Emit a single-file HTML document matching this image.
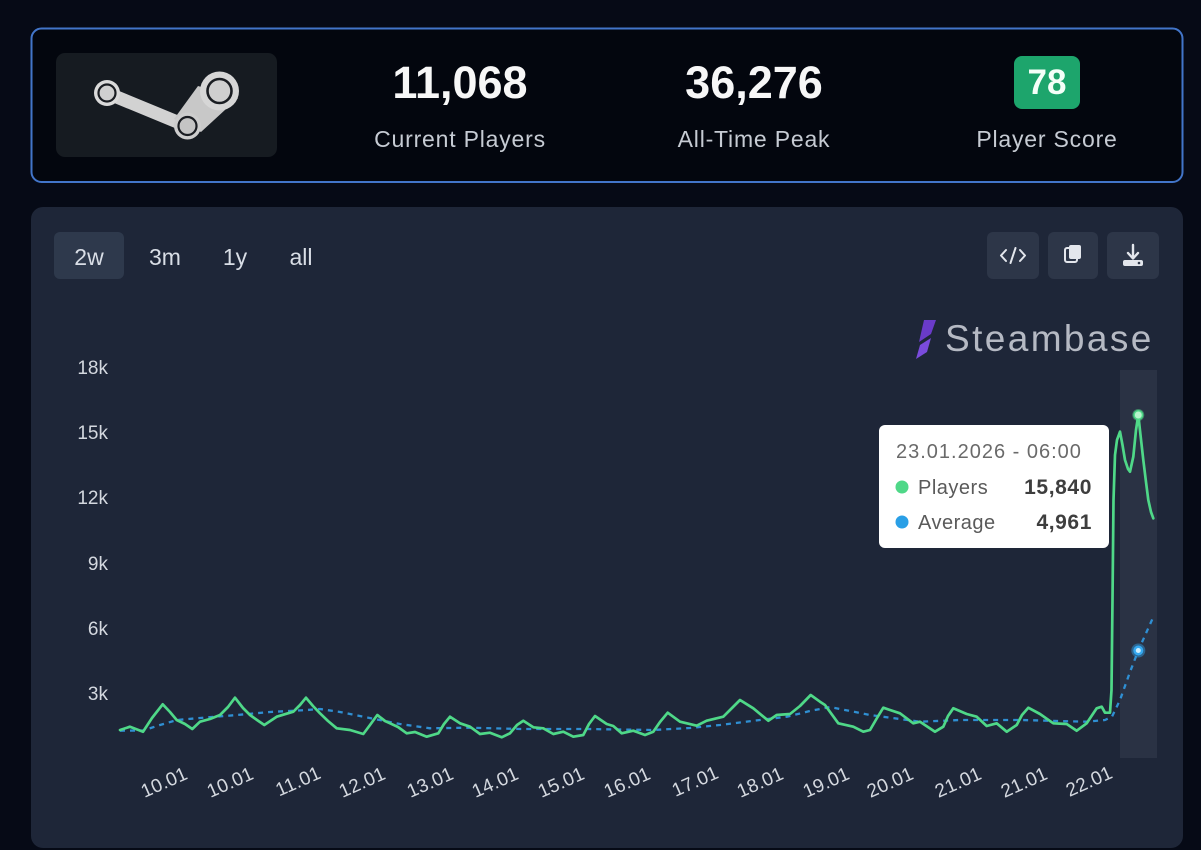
<!DOCTYPE html>
<html>
<head>
<meta charset="utf-8">
<style>
  html,body{margin:0;padding:0;background:#060a16;}
  body{width:1201px;height:850px;overflow:hidden;position:relative;font-family:"Liberation Sans",Arial,sans-serif;}
  svg{position:absolute;left:0;top:0;}
</style>
</head>
<body>
<svg width="1201" height="850" viewBox="0 0 1201 850" xmlns="http://www.w3.org/2000/svg" font-family="Liberation Sans, Arial, sans-serif">
  <rect x="0" y="0" width="1201" height="850" fill="#060a16"/>

  <!-- Top stats card -->
  <rect x="31.5" y="28.5" width="1151" height="153.5" rx="10" fill="#03060e" stroke="#4275c9" stroke-width="2"/>
  <rect x="56" y="53" width="221" height="104" rx="9" fill="#161b21"/>

  <!-- Steam logo -->
  <g>
    <line x1="107" y1="93" x2="187" y2="126" stroke="#d2d2d2" stroke-width="13" stroke-linecap="round"/>
    <polygon points="174,119 198,86 238,98 201,132" fill="#c8c8c8"/>
    <circle cx="107" cy="93" r="13" fill="#dadada"/>
    <circle cx="107" cy="93" r="8.5" fill="#d0d0d0" stroke="#1a1d22" stroke-width="2.2"/>
    <circle cx="219.5" cy="91" r="19.5" fill="#d6d6d6"/>
    <circle cx="219.5" cy="91" r="12" fill="#cfcfcf" stroke="#1a1d22" stroke-width="2.6"/>
    <circle cx="187.5" cy="126" r="13.5" fill="#cdcdcd"/>
    <circle cx="187.5" cy="126" r="9" fill="#c4c4c4" stroke="#1a1d22" stroke-width="2.2"/>
  </g>

  <!-- Stats -->
  <text x="460" y="98" text-anchor="middle" font-size="45" font-weight="bold" fill="#f7f7f7">11,068</text>
  <text x="460" y="147" text-anchor="middle" font-size="23" letter-spacing="0.8" fill="#c6cbd3">Current Players</text>
  <text x="754" y="98" text-anchor="middle" font-size="45" font-weight="bold" fill="#f7f7f7">36,276</text>
  <text x="754" y="147" text-anchor="middle" font-size="23" letter-spacing="0.8" fill="#c6cbd3">All-Time Peak</text>
  <rect x="1014" y="56" width="66" height="53" rx="8" fill="#1da56c"/>
  <text x="1047" y="94" text-anchor="middle" font-size="35" font-weight="bold" fill="#f4fff8">78</text>
  <text x="1047" y="147" text-anchor="middle" font-size="23" letter-spacing="0.8" fill="#c6cbd3">Player Score</text>

  <!-- Chart panel -->
  <rect x="31" y="207" width="1152" height="641" rx="12" fill="#1e2638"/>

  <!-- Range buttons -->
  <rect x="54" y="232" width="70" height="47" rx="6" fill="#2e394c"/>
  <text x="89" y="265" text-anchor="middle" font-size="23" fill="#d9dee6">2w</text>
  <text x="165" y="265" text-anchor="middle" font-size="23" fill="#d9dee6">3m</text>
  <text x="235" y="265" text-anchor="middle" font-size="23" fill="#d9dee6">1y</text>
  <text x="301" y="265" text-anchor="middle" font-size="23" fill="#d9dee6">all</text>

  <!-- Icon buttons -->
  <rect x="987" y="232" width="52" height="47" rx="6" fill="#2d3648"/>
  <rect x="1048" y="232" width="50" height="47" rx="6" fill="#2d3648"/>
  <rect x="1107" y="232" width="52" height="47" rx="6" fill="#2d3648"/>
  <g stroke="#e3e6ec" stroke-width="2" fill="none" stroke-linecap="round" stroke-linejoin="round">
    <polyline points="1006,250 1001,255.5 1006,261"/>
    <polyline points="1020,250 1025,255.5 1020,261"/>
    <line x1="1015.5" y1="248" x2="1010.5" y2="263"/>
  </g>
  <g fill="#e3e6ec">
    <rect x="1065" y="248" width="12" height="14" rx="2" fill="none" stroke="#e3e6ec" stroke-width="2"/>
    <rect x="1069" y="245" width="12" height="14" rx="2"/>
  </g>
  <g>
    <line x1="1133" y1="245" x2="1133" y2="258" stroke="#e3e6ec" stroke-width="2.4" stroke-linecap="round"/>
    <polyline points="1128,253 1133,258.5 1138,253" fill="none" stroke="#e3e6ec" stroke-width="2.4" stroke-linecap="round" stroke-linejoin="round"/>
    <rect x="1123" y="260" width="20" height="6" rx="2" fill="#e3e6ec"/>
    <circle cx="1139" cy="263" r="1.3" fill="#2d3648"/>
  </g>

  <!-- Steambase watermark -->
  <path d="M924,320 L936,320 L931,334 L919,342 Z" fill="#6a3bc9"/>
  <path d="M931,338 L927,352 L916,359 L920,345 Z" fill="#7a4bdc"/>
  <text x="945" y="351" font-size="37" letter-spacing="2.4" fill="#b5b9c3">Steambase</text>

  <!-- Y axis labels -->
  <g font-size="19" fill="#d4d8df" text-anchor="end">
    <text x="108" y="374">18k</text>
    <text x="108" y="439">15k</text>
    <text x="108" y="504">12k</text>
    <text x="108" y="570">9k</text>
    <text x="108" y="635">6k</text>
    <text x="108" y="700">3k</text>
  </g>

  <!-- Hover band -->
  <rect x="1120" y="370" width="37" height="388" fill="#2a3244"/>

  <!-- Average (dashed) -->
  <polyline fill="none" stroke="#2f8fd3" stroke-width="2.3" stroke-dasharray="5 5" stroke-linejoin="round"
    points="120,730.7 143,730.5 160,725 177,720 200,718 237,715 270,712 307,710 320,709 340,712 363,716.7 400,724 430,728.3 470,727.7 520,729 587,729 653,730 690,728 720,725 760,720 787,716.7 810,711 830,707 850,711 870,715 920,721.7 960,720 1020,720 1087,721.7 1105,720 1112,716.7 1120,700 1130,672 1138.3,650.5 1153.3,617"/>

  <!-- Players (green) -->
  <polyline fill="none" stroke="#4fd888" stroke-width="2.7" stroke-linejoin="round" stroke-linecap="round"
    points="120,730 130,726.7 143,731.7 152,718 162.7,704.3 170,712 176.7,720 185,724 192.3,729 200,721.7 210,719 220,715 228,707 235,697.7 243,708 250,715 257,720 264.3,725 276.7,716.7 293.3,711.7 300,705 306,697.7 313,706 320,713.3 328,721 336.7,728.3 350,730 363.3,734 370,725 377.3,715 385,721 390,723.3 398,727 406.7,733.3 415,732 426.7,736.7 438.3,733.3 444,724 450,716.7 460,723.3 470,726.7 480,734 490,732.7 501.7,737.3 510,733.3 517,725 523.3,720.7 533.3,727.3 543.3,728.3 553.3,734 563.3,731.7 573.3,736.7 583.3,735 589,724 595,716 606.7,724 613.3,726 621.7,733.3 633.3,730.7 645,735 653.3,731.7 660,722 667.7,712.7 680,721.7 696.7,725.7 706.7,720.7 723.3,716.7 732,708 740,700 753.3,708.3 768.3,720.7 776.7,715 790,714 800,706 810.7,695 820,701.7 825,705 838.3,723.3 853.3,726.7 863.3,731.7 870,730 877,718 883.3,707.7 890,710 900,713.3 913.3,723.3 920,721.7 935,731.7 943.3,726.7 948,716 953.3,708.3 966.7,714 976.7,716.7 986.7,726 996.7,723.3 1006.7,731.7 1016.7,725 1022,715 1028.3,707.7 1040,714 1053.3,723.3 1066.7,724 1076.7,730.7 1086.7,723.3 1096.7,708.3 1101.7,706.7 1105,712.7 1110,712.7 1111.5,690 1112.5,600 1113.5,500 1115,455 1117,440 1120,431.7 1122.5,445 1125,460 1128,469 1130,471.7 1133.3,456.7 1136,430 1138.3,415 1140.5,435 1143.3,460 1146,482 1148.3,500 1151,512 1153.3,518.3"/>

  <!-- Hover points -->
  <circle cx="1138.3" cy="415" r="6" fill="#4fd888" opacity="0.5"/>
  <circle cx="1138.3" cy="415" r="4.2" fill="#b6f5cb" stroke="#4fd888" stroke-width="1.5"/>
  <circle cx="1138.3" cy="650.5" r="7" fill="#2fa3ee" opacity="0.45"/>
  <circle cx="1138.3" cy="650.5" r="5" fill="#35a8f0"/>
  <circle cx="1138.3" cy="650.5" r="2.5" fill="#cdeeff"/>

  <!-- Tooltip -->
  <rect x="879" y="425" width="230" height="123" rx="6" fill="#ffffff"/>
  <text x="896" y="458" font-size="20" letter-spacing="1" fill="#6a6a6a">23.01.2026 - 06:00</text>
  <circle cx="902" cy="487" r="6.5" fill="#4fd888"/>
  <text x="918" y="494" font-size="20" letter-spacing="0.5" fill="#5a5a5a">Players</text>
  <text x="1092" y="494" text-anchor="end" font-size="21" font-weight="bold" letter-spacing="0.6" fill="#3e3e3e">15,840</text>
  <circle cx="902" cy="522" r="6.5" fill="#2a9fe6"/>
  <text x="918" y="529" font-size="20" letter-spacing="0.5" fill="#5a5a5a">Average</text>
  <text x="1092" y="529" text-anchor="end" font-size="21" font-weight="bold" letter-spacing="0.6" fill="#3e3e3e">4,961</text>

  <!-- X axis labels -->
  <g font-size="19" letter-spacing="0.2" fill="#d4d8df" text-anchor="middle">
    <text transform="translate(164,782) rotate(-24)" dy="0.35em">10.01</text>
    <text transform="translate(230,782) rotate(-24)" dy="0.35em">10.01</text>
    <text transform="translate(298,781) rotate(-24)" dy="0.35em">11.01</text>
    <text transform="translate(362,782) rotate(-24)" dy="0.35em">12.01</text>
    <text transform="translate(430,782) rotate(-24)" dy="0.35em">13.01</text>
    <text transform="translate(495,782) rotate(-24)" dy="0.35em">14.01</text>
    <text transform="translate(561,782) rotate(-24)" dy="0.35em">15.01</text>
    <text transform="translate(627,782) rotate(-24)" dy="0.35em">16.01</text>
    <text transform="translate(695,781) rotate(-24)" dy="0.35em">17.01</text>
    <text transform="translate(760,782) rotate(-24)" dy="0.35em">18.01</text>
    <text transform="translate(826,782) rotate(-24)" dy="0.35em">19.01</text>
    <text transform="translate(890,782) rotate(-24)" dy="0.35em">20.01</text>
    <text transform="translate(958,782) rotate(-24)" dy="0.35em">21.01</text>
    <text transform="translate(1024,782) rotate(-24)" dy="0.35em">21.01</text>
    <text transform="translate(1089,781) rotate(-24)" dy="0.35em">22.01</text>
  </g>
</svg>
</body>
</html>
